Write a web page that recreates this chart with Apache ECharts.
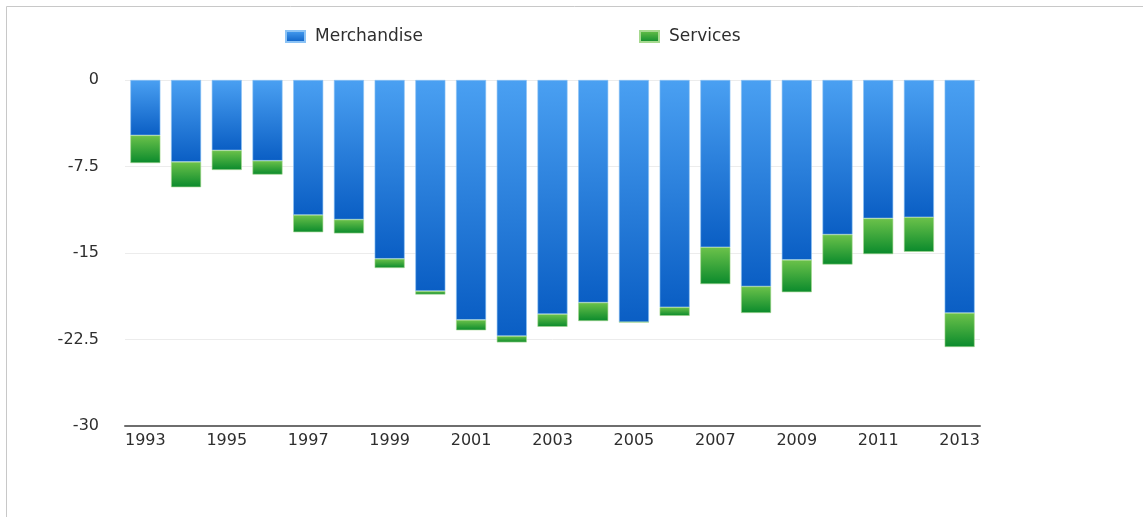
<!DOCTYPE html>
<html>
<head>
<meta charset="utf-8">
<script src="https://cdn.jsdelivr.net/npm/echarts@6/dist/echarts.min.js"></script>
<style>
html,body{margin:0;padding:0;background:#fff;}
#chart{width:1143px;height:517px;}
</style>
</head>
<body>
<div id="chart"></div>
<script>
const years = ['1993','1994','1995','1996','1997','1998','1999','2000','2001','2002','2003','2004','2005','2006','2007','2008','2009','2010','2011','2012','2013'];
const merchandise = [-4.8,-7.1,-6.1,-7.0,-11.7,-12.1,-15.5,-18.3,-20.8,-22.2,-20.3,-19.3,-21.0,-19.7,-14.5,-17.9,-15.6,-13.4,-12.0,-11.9,-20.2];
const services = [-2.4,-2.2,-1.7,-1.2,-1.5,-1.2,-0.8,-0.3,-0.9,-0.55,-1.1,-1.6,0,-0.75,-3.2,-2.3,-2.8,-2.6,-3.1,-3.0,-2.95];
const yTicks = [0,-7.5,-15,-22.5,-30];

const blueGrad = new echarts.graphic.LinearGradient(0,0,0,1,[{offset:0,color:'#4aa0f2'},{offset:1,color:'#0a5ec4'}]);
const greenGrad = new echarts.graphic.LinearGradient(0,0,0,1,[{offset:0,color:'#6cc24a'},{offset:1,color:'#0a8a2c'}]);
const font = 'DejaVu Sans, Verdana, sans-serif';

const chart = echarts.init(document.getElementById('chart'));
chart.setOption({
  animation:false,
  backgroundColor:'#ffffff',
  graphic:[
    {type:'line',shape:{x1:6.5,y1:6.5,x2:1143,y2:6.5},style:{stroke:'#c8c8c8',lineWidth:1}},
    {type:'line',shape:{x1:6.5,y1:6.5,x2:6.5,y2:517},style:{stroke:'#c8c8c8',lineWidth:1}}
  ],
  legend:[
    {data:[{name:'Merchandise',icon:'rect'}],left:280,top:23,itemWidth:19,itemHeight:11,
     textStyle:{fontFamily:font,fontSize:17,color:'#2e2e2e',padding:[0,0,0,5]}},
    {data:[{name:'Services',icon:'rect'}],left:634,top:23,itemWidth:19,itemHeight:11,
     textStyle:{fontFamily:font,fontSize:17,color:'#2e2e2e',padding:[0,0,0,5]}}
  ],
  grid:{left:125,right:163,top:80,bottom:91,containLabel:false},
  xAxis:{
    type:'category',data:years,
    axisLine:{show:true,onZero:false,lineStyle:{color:'#6e6e6e',width:2}},
    axisTick:{show:false},
    axisLabel:{interval:1,fontFamily:font,fontSize:16,color:'#2e2e2e',margin:7}
  },
  yAxis:{
    type:'value',min:-30,max:0,interval:7.5,
    axisLine:{show:false},axisTick:{show:false},
    splitLine:{lineStyle:{color:'#ececec',width:1}},
    axisLabel:{fontFamily:font,fontSize:16,color:'#2e2e2e',margin:26,
      formatter:function(v){return yTicks.indexOf(v)>=0?String(v):'';}}
  },
  series:[
    {name:'Merchandise',type:'bar',stack:'t',data:merchandise,barWidth:30,
     itemStyle:{color:blueGrad,borderColor:'#8cc3f5',borderWidth:0.6}},
    {name:'Services',type:'bar',stack:'t',data:services,barWidth:30,
     itemStyle:{color:greenGrad,borderColor:'#a6d98f',borderWidth:0.6}}
  ]
});
</script>
</body>
</html>
